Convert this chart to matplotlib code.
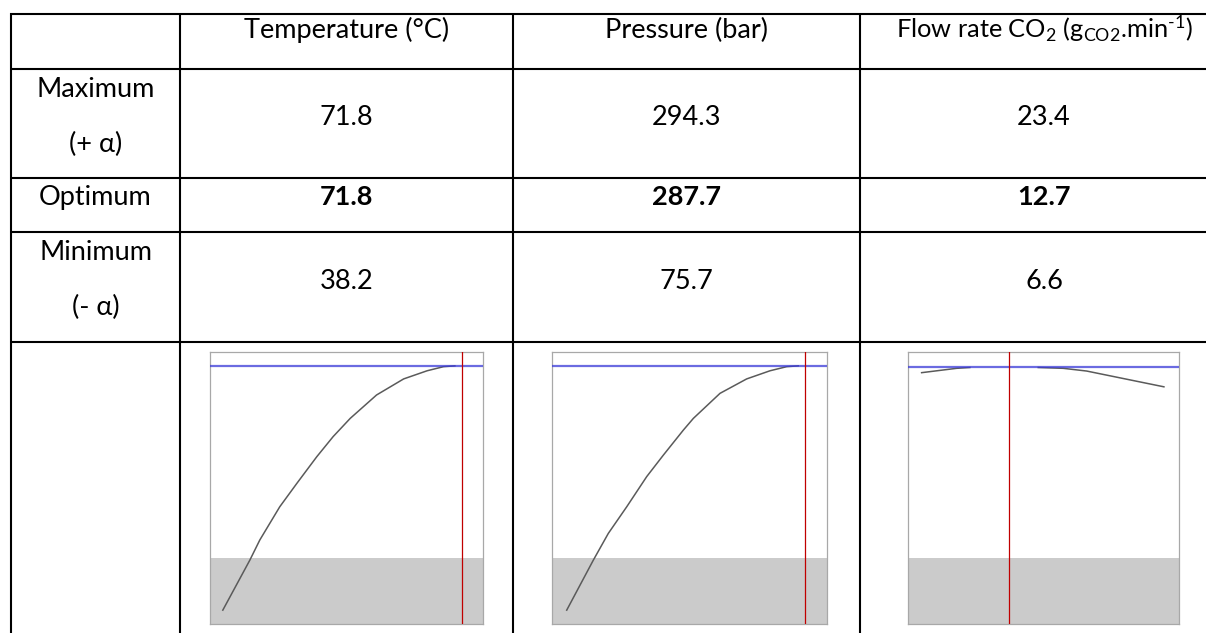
import numpy as np
import matplotlib
matplotlib.use("Agg")
import matplotlib.pyplot as plt

plt.rcParams['font.family'] = ['Lato', 'DejaVu Sans']
plt.rcParams['mathtext.fontset'] = 'custom'
plt.rcParams['mathtext.rm'] = 'Lato'
plt.rcParams['mathtext.default'] = 'regular'

# ---------------- data ----------------
columns = ["Temperature (°C)", "Pressure (bar)",
           r"Flow rate CO$_2$ (g$_{CO2}$.min$^{\text{-}1}$)"]
row_labels = [("Maximum", "(+ α)"), ("Optimum",), ("Minimum", "(- α)")]
maximum = ["71.8", "294.3", "23.4"]
optimum = ["71.8", "287.7", "12.7"]
minimum = ["38.2", "75.7", "6.6"]

# desirability profiles (x in variable units, y = desirability 0..1)
temp_x = [38.2, 42.0, 43.4, 46.2, 48.6, 51.4, 53.7, 56.1, 59.8, 63.6, 66.9, 69.2, 70.8]
temp_y = [0.051, 0.235, 0.309, 0.431, 0.517, 0.615, 0.689, 0.756, 0.842, 0.901, 0.931, 0.946, 0.949]
press_x = [75.7, 99.4, 112.7, 129.1, 146.9, 161.7, 179.5, 188.4, 212.1, 235.8, 256.6, 271.4, 281.7]
press_y = [0.051, 0.235, 0.333, 0.431, 0.542, 0.621, 0.713, 0.756, 0.848, 0.901, 0.931, 0.946, 0.949]
flow_x = [6.6, 9.04, 9.96, np.nan, 14.72, 16.46, 18.09, 23.47]
flow_y = [0.924, 0.940, 0.943, np.nan, 0.943, 0.940, 0.930, 0.872]
opt_values = [71.8, 287.7, 12.7]
max_desirability = [0.949, 0.949, 0.944]
x_limits = [(36.4, 74.75), (62.6, 307.3), (5.63, 24.52)]
low_zone = 0.243

# ---------------- layout ----------------
W, H = 1206, 633
fig = plt.figure(figsize=(W / 100, H / 100), dpi=100)
base = fig.add_axes([0, 0, 1, 1])
base.set_xlim(0, W)
base.set_ylim(H, 0)
base.axis('off')

lw_tab = 1.5
hlines = [14, 69, 178, 232, 342]
vlines = [11, 180, 513, 860]
for y in hlines:
    base.plot([vlines[0] - 1, W + 5], [y, y], color='black', lw=lw_tab, solid_capstyle='butt')
for x in vlines:
    base.plot([x, x], [hlines[0] - 1, H + 5], color='black', lw=lw_tab, solid_capstyle='butt')

col_centers = [95.5, 346.5, 686.5, 1044]
fs = 19.5
header_fs = [19.5, 19.5, 18.3]

# header
for c, t, f in zip(col_centers[1:], columns, header_fs):
    base.text(c, 38, t, ha='center', va='baseline', fontsize=f)

# row labels
base.text(col_centers[0], 97, row_labels[0][0], ha='center', va='baseline', fontsize=fs)
base.text(col_centers[0], 152, row_labels[0][1], ha='center', va='baseline', fontsize=fs)
base.text(col_centers[0], 205, row_labels[1][0], ha='center', va='baseline', fontsize=fs)
base.text(col_centers[0], 260, row_labels[2][0], ha='center', va='baseline', fontsize=fs)
base.text(col_centers[0], 315, row_labels[2][1], ha='center', va='baseline', fontsize=fs)

for c, v in zip(col_centers[1:], maximum):
    base.text(c, 125, v, ha='center', va='baseline', fontsize=fs)
for c, v in zip(col_centers[1:], optimum):
    base.text(c, 205, v, ha='center', va='baseline', fontsize=fs, fontweight='bold')
for c, v in zip(col_centers[1:], minimum):
    base.text(c, 289, v, ha='center', va='baseline', fontsize=fs)

# ---------------- profile plots ----------------
boxes = [(210, 483), (552, 827), (907.7, 1179)]
top, bottom = 352, 624
profiles = [(temp_x, temp_y), (press_x, press_y), (flow_x, flow_y)]
for (l, r), (px, py), xl, opt, md in zip(boxes, profiles, x_limits, opt_values, max_desirability):
    ax = fig.add_axes([l / W, (H - bottom) / H, (r - l) / W, (bottom - top) / H])
    ax.set_xlim(*xl)
    ax.set_ylim(0, 1)
    ax.axhspan(0, low_zone, color='#cbcbcb', lw=0, zorder=1)
    ax.plot(px, py, color='#5a5a5a', lw=1.1, zorder=2)
    ax.axhline(md, color='#3a3ad8', lw=1.6, alpha=0.75, zorder=3)
    ax.axvline(opt, color='#c00000', lw=0.9, zorder=4)
    ax.set_xticks([])
    ax.set_yticks([])
    for s in ax.spines.values():
        s.set_color('#a8a8a8')
        s.set_linewidth(0.9)

fig.savefig("out.png", dpi=100)
